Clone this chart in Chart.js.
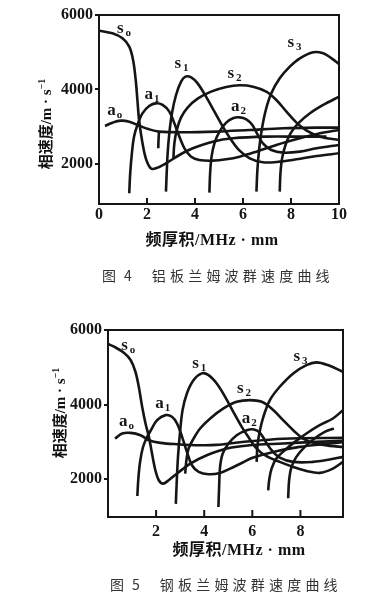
<!DOCTYPE html>
<html>
<head>
<meta charset="utf-8">
<script src="https://cdn.jsdelivr.net/npm/chart.js@4/dist/chart.umd.min.js"></script>
<style>
  body { margin: 0; width: 388px; height: 605px; background: #fff; position: relative; overflow: hidden; color: #111; }
  canvas { position: absolute; left: 0; }
  .t { position: absolute; white-space: nowrap; transform: translate(-50%, -50%); }
  .ytitle { font: bold 15px "Liberation Serif", "Noto Sans CJK SC", serif; transform: translate(-50%, -50%) rotate(-90deg); }
  .xtitle { font: bold 16px "Liberation Serif", "Noto Sans CJK SC", serif; letter-spacing: 0.5px; }
  .cap { position: absolute; white-space: nowrap; font: 400 14px "Noto Sans CJK SC", sans-serif; color: #333; transform: translateY(-50%); }
  .cap i { font-style: normal; margin-left: 8px; }
  .cap b { font-weight: 400; letter-spacing: 4.2px; margin-left: 20px; }
  sup { font-size: 10px; vertical-align: 6px; }
</style>
</head>
<body>
<canvas id="alChart" width="388" height="230" style="top:0"></canvas>
<canvas id="stChart" width="388" height="240" style="top:300px"></canvas>

<div class="t ytitle" style="left:44px;top:124px">相速度/m · s<sup>−1</sup></div>
<div class="t xtitle" style="left:212px;top:238px">频厚积/MHz · mm</div>
<div class="cap" style="left:102px;top:275px">图<i>4</i><b>铝板兰姆波群速度曲线</b></div>

<div class="t ytitle" style="left:58px;top:413px">相速度/m · s<sup>−1</sup></div>
<div class="t xtitle" style="left:239px;top:548px">频厚积/MHz · mm</div>
<div class="cap" style="left:110px;top:584px">图<i>5</i><b>钢板兰姆波群速度曲线</b></div>

<script>
// tick values
const alXTicks = [0, 2, 4, 6, 8, 10];
const stXTicks = [2, 4, 6, 8];
const yTicks = [2000, 4000, 6000];

// aluminium plate, [fd, velocity]
const alS0 = [[0,5579],[0.56,5508],[0.98,5374],[1.26,5150],[1.42,4792],[1.53,4255],[1.60,3718],[1.67,3181],[1.79,2644],[1.95,2152],[2.16,1883],[2.37,1883],[2.79,2017],[3.35,2241],[3.91,2420],[4.74,2599],[5.58,2689],[6.97,2733],[8.37,2733],[9.48,2733]];
const alA0 = [[0.25,3020],[0.56,3109],[0.91,3163],[1.26,3136],[1.60,3047],[2.09,2930],[2.51,2868],[3.49,2850],[4.88,2868],[6.28,2912],[7.67,2957],[9.07,2975],[10,2975]];
const alA1 = [[1.26,1212],[1.30,1749],[1.37,2286],[1.46,2733],[1.60,3047],[1.81,3360],[2.09,3557],[2.37,3628],[2.65,3584],[2.93,3405],[3.14,3091],[3.35,2733],[3.56,2420],[3.84,2196],[4.18,2107],[4.74,2089],[5.30,2125],[5.86,2196],[6.56,2331],[7.39,2510],[8.37,2689],[9.21,2823],[10,2912]];
const alS1 = [[2.79,1257],[2.82,1749],[2.86,2286],[2.93,2823],[3.04,3360],[3.21,3852],[3.42,4210],[3.60,4344],[3.84,4326],[4.11,4165],[4.46,3807],[4.81,3405],[5.16,3002],[5.51,2644],[5.86,2357],[6.28,2152],[6.83,2044],[7.53,2062],[8.23,2125],[9.07,2214],[10,2286]];
const alS2 = [[3.10,2152],[3.14,2554],[3.24,2912],[3.42,3252],[3.70,3521],[4.11,3754],[4.67,3942],[5.30,4067],[5.86,4112],[6.42,4076],[6.97,3942],[7.39,3718],[7.81,3405],[8.23,3109],[8.65,2894],[9.21,2733],[10,2644]];
const alA2 = [[4.60,1230],[4.63,1749],[4.69,2196],[4.81,2554],[5.02,2868],[5.30,3109],[5.58,3226],[5.86,3252],[6.14,3199],[6.39,3047],[6.58,2823],[6.83,2554],[7.18,2375],[7.67,2304],[8.37,2331],[9.07,2420],[10,2510]];
const alS3 = [[6.56,1257],[6.60,1838],[6.67,2375],[6.78,2912],[6.95,3449],[7.18,3897],[7.53,4300],[7.95,4613],[8.37,4837],[8.93,4998],[9.34,4971],[9.69,4837],[10,4684]];
const alA3 = [[7.53,1257],[7.56,1749],[7.63,2152],[7.77,2510],[7.98,2823],[8.30,3091],[8.79,3360],[9.34,3584],[10,3807]];
const alCusp = [[2.50,2870],[2.48,2640],[2.47,2420]];

// steel plate, [fd, velocity]
const stS0 = [[0,5624],[0.25,5553],[0.66,5391],[0.94,5195],[1.14,4881],[1.28,4479],[1.42,3942],[1.56,3494],[1.70,3136],[1.83,2689],[1.97,2241],[2.11,1973],[2.29,1883],[2.52,1973],[2.87,2152],[3.42,2420],[4.11,2644],[4.94,2823],[5.90,2912],[7.28,2957],[8.66,3002],[9.77,3029]];
const stA0 = [[0.29,3091],[0.59,3226],[0.94,3243],[1.35,3181],[1.70,3047],[2.18,2975],[2.87,2939],[3.83,2912],[4.50,2920],[5.49,2990],[7.28,3085],[9.77,3110]];
const stA1 = [[1.22,1550],[1.26,2000],[1.33,2450],[1.45,2850],[1.60,3100],[1.77,3300],[2.04,3584],[2.39,3718],[2.66,3673],[2.87,3494],[3.08,3136],[3.28,2733],[3.49,2375],[3.77,2196],[4.18,2134],[4.66,2170],[5.08,2286],[5.60,2450],[6.04,2580],[7.00,2750],[7.97,2868],[8.94,2940],[9.77,2990]];
const stS1 = [[2.82,1340],[2.86,1973],[2.91,2599],[2.99,3226],[3.10,3852],[3.28,4300],[3.56,4658],[3.90,4837],[4.18,4792],[4.52,4568],[4.87,4210],[5.21,3807],[5.56,3405],[5.83,3136],[6.18,2823],[6.59,2617],[7.14,2465],[7.70,2330],[8.25,2223],[8.80,2170],[9.35,2286],[9.77,2465]];
const stS2 = [[3.21,2152],[3.26,2510],[3.35,2823],[3.56,3091],[3.83,3360],[4.25,3628],[4.80,3897],[5.35,4076],[5.90,4121],[6.39,4076],[6.80,3897],[7.28,3584],[7.70,3315],[8.11,3091],[8.66,2957],[9.21,2894],[9.77,2868]];
const stA2 = [[4.59,1257],[4.62,1794],[4.66,2331],[4.77,2689],[5.01,2957],[5.35,3181],[5.77,3315],[6.07,3333],[6.32,3243],[6.52,3047],[6.80,2778],[7.14,2581],[7.70,2465],[8.52,2465],[9.21,2527],[9.77,2599]];
const stS3 = [[6.18,2465],[6.21,2868],[6.29,3226],[6.46,3673],[6.73,4121],[7.14,4479],[7.70,4837],[8.25,5060],[8.66,5132],[9.14,5060],[9.77,4881]];
const stA3 = [[6.66,1704],[6.70,1973],[6.80,2286],[7.00,2554],[7.35,2778],[7.77,3002],[8.25,3226],[8.80,3449],[9.35,3628],[9.77,3852]];
const stS4 = [[7.49,1490],[7.53,1973],[7.63,2331],[7.83,2599],[8.18,2868],[8.59,3091],[9.01,3270],[9.39,3360]];

// mode names: [letter, index, fd, velocity]
const alNames = [["s","o",0.89,5613],["a","o",0.52,3422],["a","1",2.07,3852],["s","1",3.28,4684],["s","2",5.49,4408],["a","2",5.68,3519],["s","3",7.99,5240]];
const stNames = [["s","o",0.69,5578],["a","o",0.63,3522],["a","1",2.14,4013],["s","1",3.64,5087],["s","2",5.50,4416],["a","2",5.74,3610],["s","3",7.85,5267]];

const ink = "#151515";
const serif = "'Liberation Serif', serif";

const frame = {
  id: "frame",
  afterDatasetsDraw(chart, args, opts) {
    const { ctx, chartArea: a, scales } = chart;
    ctx.save();
    ctx.strokeStyle = ink;
    ctx.lineWidth = 2;
    ctx.strokeRect(a.left, a.top, a.right - a.left, a.bottom - a.top);
    opts.xTicks.forEach(v => {
      const px = scales.x.getPixelForValue(v);
      ctx.beginPath();
      ctx.moveTo(px, a.bottom);
      ctx.lineTo(px, a.bottom - opts.tickIn);
      ctx.stroke();
    });
    ctx.fillStyle = ink;
    ctx.textAlign = "center";
    ctx.textBaseline = "alphabetic";
    opts.names.forEach(n => {
      const px = scales.x.getPixelForValue(n[2]);
      const py = scales.y.getPixelForValue(n[3]);
      ctx.font = "bold 17px " + serif;
      ctx.fillText(n[0], px, py + 4);
      ctx.font = "bold 11px " + serif;
      ctx.fillText(n[1], px + 8, py + 7);
    });
    ctx.restore();
  }
};

function makeChart(id, curves, xMax, yMin, xTicks, names, box) {
  new Chart(document.getElementById(id), {
    type: "scatter",
    data: {
      datasets: curves.map(c => ({
        data: c.map(p => ({ x: p[0], y: p[1] })),
        showLine: true,
        borderColor: ink,
        borderWidth: 2.6,
        pointRadius: 0,
        tension: 0.35,
        fill: false
      }))
    },
    options: {
      responsive: false,
      animation: false,
      events: [],
      layout: { padding: { top: box.top, right: box.right, left: 0, bottom: 0 } },
      plugins: {
        legend: { display: false },
        tooltip: { enabled: false },
        frame: { xTicks: xTicks, tickIn: box.tickIn, names: names }
      },
      scales: {
        x: {
          type: "linear", min: 0, max: xMax,
          afterBuildTicks: s => { s.ticks = xTicks.map(v => ({ value: v })); },
          afterFit: s => { s.height = box.xh; },
          grid: { display: false, drawTicks: false },
          border: { display: false },
          ticks: { color: ink, autoSkip: false, maxRotation: 0, padding: box.xpad,
                   font: { family: serif, size: 16, weight: "bold" }, callback: v => String(v) }
        },
        y: {
          type: "linear", min: yMin, max: 6000,
          afterBuildTicks: s => { s.ticks = yTicks.map(v => ({ value: v })); },
          afterFit: s => { s.width = box.yw; },
          grid: { drawOnChartArea: false, drawTicks: true, tickLength: box.tl, color: ink, lineWidth: 2 },
          border: { display: false },
          ticks: { color: ink, padding: box.ypad,
                   font: { family: serif, size: 16, weight: "bold" }, callback: v => String(v) }
        }
      }
    },
    plugins: [frame]
  });
}

makeChart("alChart", [alS0, alA0, alA1, alS1, alS2, alA2, alS3, alA3, alCusp], 10, 925, alXTicks, alNames,
  { top: 15, right: 49, xh: 26, yw: 99, tl: 4, ypad: 2, xpad: 1, tickIn: 6 });
makeChart("stChart", [stS0, stA0, stA1, stS1, stS2, stA2, stS3, stA3, stS4], 9.77, 988, stXTicks, stNames,
  { top: 30, right: 45, xh: 23, yw: 108, tl: 4, ypad: 2, xpad: 5, tickIn: 7 });
</script>
</body>
</html>
